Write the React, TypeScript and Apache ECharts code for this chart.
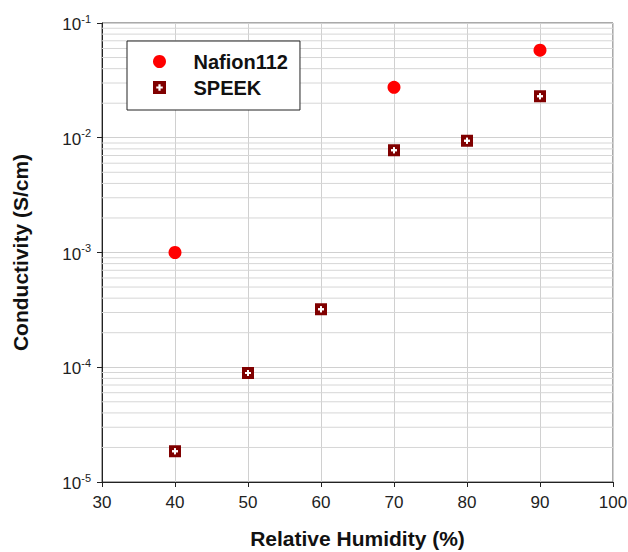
import React, { useEffect, useRef } from "react";
import * as echarts from "echarts";

const humidityNafion = [40, 70, 90];
const conductivityNafion = [1.0e-3, 2.75e-2, 5.8e-2];
const humiditySpeek = [40, 50, 60, 70, 80, 90];
const conductivitySpeek = [1.85e-5, 8.9e-5, 3.2e-4, 7.8e-3, 9.4e-3, 2.3e-2];

const FONT = "Liberation Sans, Arial, sans-serif";

const SQUARE_HOLE =
  "path://M0,0 H12 V12 H0 Z M5,3 L5,5 L3,5 L3,7 L5,7 L5,9 L7,9 L7,7 L9,7 L9,5 L7,5 L7,3 Z";
const PLUS =
  "path://M5,3 L7,3 L7,5 L9,5 L9,7 L7,7 L7,9 L5,9 L5,7 L3,7 L3,5 L5,5 Z";

// minor grid values of the log axis (2..9 × each decade)
const minorGridValues: number[] = [];
for (let e = -5; e < -1; e++) {
  for (let m = 2; m <= 9; m++) minorGridValues.push(m * Math.pow(10, e));
}

export default function App() {
  const ref = useRef<HTMLDivElement>(null);
  useEffect(() => {
    if (!ref.current) return;
    const chart = echarts.init(ref.current, undefined, { renderer: "svg" });
    chart.setOption({
      animation: false,
      backgroundColor: "#ffffff",
      textStyle: { fontFamily: FONT },
      grid: {
        left: 102,
        top: 23,
        right: 15,
        bottom: 70,
        show: true,
        borderColor: "#555",
        borderWidth: 1,
        outerBoundsMode: "none",
        containLabel: false,
      },
      legend: {
        orient: "vertical",
        left: 127,
        top: 41,
        padding: [10, 12, 12, 26],
        itemGap: 5,
        itemWidth: 28,
        itemHeight: 13,
        backgroundColor: "#fff",
        borderColor: "#222",
        borderWidth: 1,
        borderRadius: 0,
        data: ["Nafion112", "SPEEK"],
        textStyle: {
          fontFamily: FONT,
          fontSize: 20,
          lineHeight: 21,
          fontWeight: "bold",
          color: "#111",
          padding: [0, 0, 0, 15],
        },
      },
      xAxis: {
        type: "value",
        min: 30,
        max: 100,
        interval: 10,
        name: "Relative Humidity (%)",
        nameLocation: "middle",
        nameGap: 45,
        nameTextStyle: { fontFamily: FONT, fontSize: 21, fontWeight: "bold", color: "#111", lineHeight: 22 },
        axisLine: { show: true, lineStyle: { color: "#222", width: 1 } },
        axisTick: { show: true, inside: false, length: 5, lineStyle: { color: "#222" } },
        axisLabel: { fontFamily: FONT, fontSize: 17, color: "#222", margin: 12 },
        splitLine: { show: true, lineStyle: { color: "#d0d0d0", width: 1 } },
      },
      yAxis: {
        type: "log",
        logBase: 10,
        min: 1e-5,
        max: 1e-1,
        name: "Conductivity (S/cm)",
        nameLocation: "middle",
        nameGap: 71,
        nameTextStyle: { fontFamily: FONT, fontSize: 21, fontWeight: "bold", color: "#111" },
        axisLine: { show: true, lineStyle: { color: "#222", width: 1 } },
        axisTick: { show: true, inside: false, length: 5, lineStyle: { color: "#222" } },
        axisLabel: {
          margin: 11,
          formatter: (v: number) => `{b|10}{s|${Math.round(Math.log10(v))}}`,
          rich: {
            b: { fontFamily: FONT, fontSize: 17, color: "#222", lineHeight: 20, verticalAlign: "bottom" },
            s: { fontFamily: FONT, fontSize: 11, color: "#222", verticalAlign: "top", lineHeight: 11 },
          },
        },
        splitLine: { show: true, lineStyle: { color: "#d0d0d0", width: 1 } },
      },
      series: [
        {
          name: "minor-grid",
          type: "custom",
          silent: true,
          z: 1,
          encode: { x: 0, y: 1 },
          data: minorGridValues.map((v) => [30, v, 100]),
          renderItem: (params: any, api: any) => {
            const p1 = api.coord([api.value(0), api.value(1)]);
            const p2 = api.coord([api.value(2), api.value(1)]);
            return {
              type: "line",
              shape: { x1: p1[0], y1: p1[1], x2: p2[0], y2: p2[1] },
              style: { stroke: "#d6d6d6", lineWidth: 1 },
            };
          },
        },
        {
          name: "Nafion112",
          type: "scatter",
          symbol: "circle",
          symbolSize: 13,
          itemStyle: { color: "#ff0000", opacity: 1 },
          data: humidityNafion.map((h, i) => [h, conductivityNafion[i]]),
          z: 5,
        },
        {
          name: "SPEEK",
          type: "scatter",
          symbol: SQUARE_HOLE,
          symbolSize: 12,
          itemStyle: { color: "#800000", opacity: 1 },
          data: humiditySpeek.map((h, i) => [h, conductivitySpeek[i]]),
          z: 5,
        },
        {
          name: "SPEEK-plus",
          type: "scatter",
          symbol: PLUS,
          symbolSize: 6,
          silent: true,
          itemStyle: { color: "#ffffff", opacity: 1 },
          data: humiditySpeek.map((h, i) => [h, conductivitySpeek[i]]),
          z: 6,
        },
      ],
    });
    return () => chart.dispose();
  }, []);
  return (
    <div
      ref={ref}
      style={{ position: "absolute", left: 0, top: 0, width: 628, height: 552 }}
    />
  );
}
